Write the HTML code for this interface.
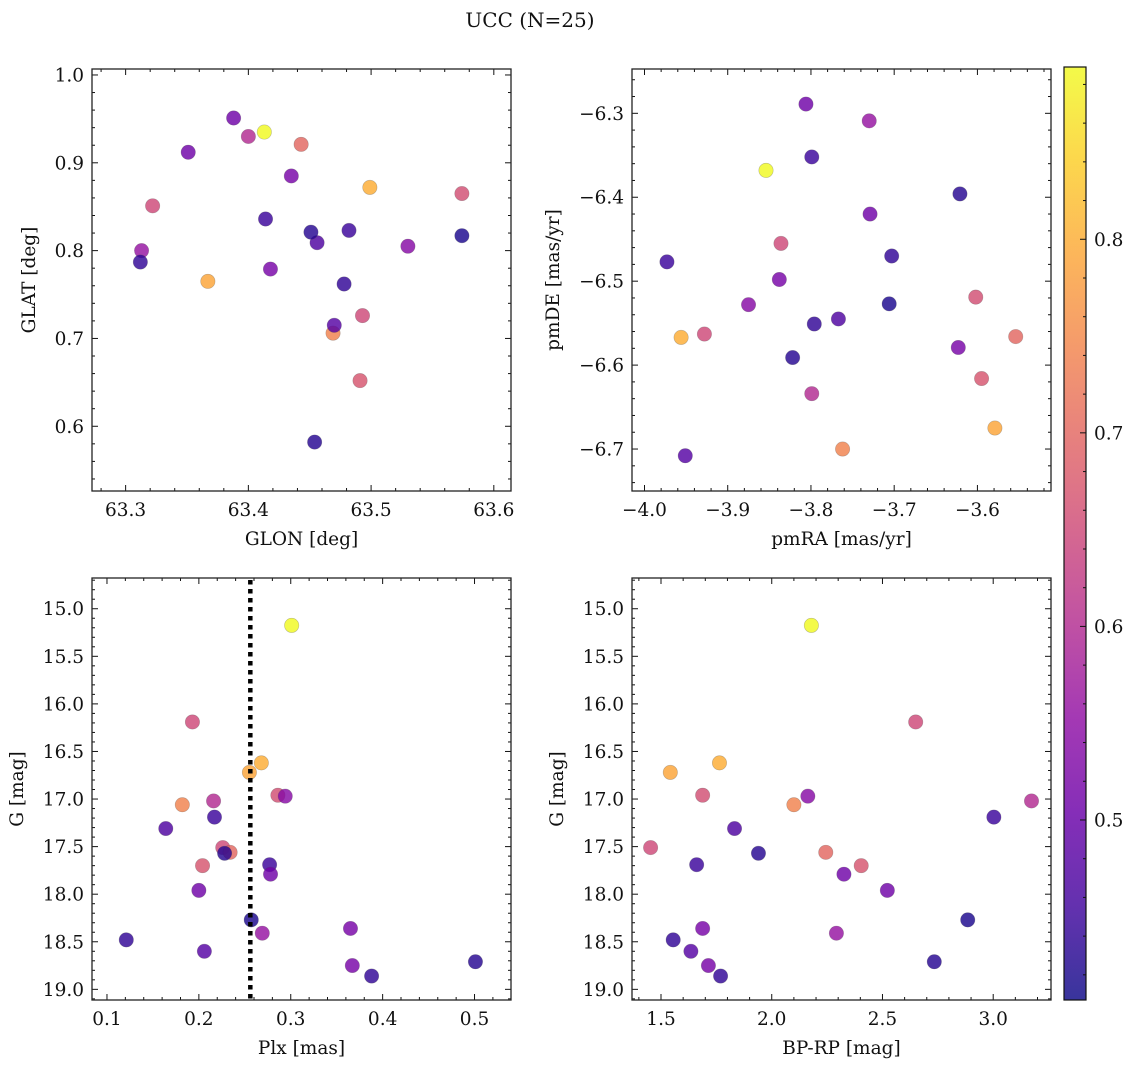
<!DOCTYPE html>
<html><head><meta charset="utf-8">
<style>
html,body{margin:0;padding:0;background:#fff;}
svg{display:block;}
text{font-family:"DejaVu Serif","Liberation Serif",serif;fill:#111;}
</style></head>
<body>
<svg id="fig" width="1136" height="1067" viewBox="0 0 1136 1067" xmlns="http://www.w3.org/2000/svg">
<text x="530" y="27" font-size="20" text-anchor="middle">UCC (N=25)</text>
</svg>
<script>
const glon=[63.413,63.322,63.499,63.367,63.469,63.400,63.574,63.530,63.414,63.456,63.493,63.443,63.451,63.491,63.482,63.388,63.351,63.574,63.313,63.435,63.312,63.470,63.418,63.478,63.454];
const glat=[0.935,0.851,0.872,0.765,0.706,0.930,0.865,0.805,0.836,0.809,0.726,0.921,0.821,0.652,0.823,0.951,0.912,0.817,0.800,0.885,0.787,0.715,0.779,0.762,0.582];
const pmra=[-3.854,-3.836,-3.956,-3.579,-3.762,-3.799,-3.602,-3.875,-3.799,-3.767,-3.928,-3.554,-3.621,-3.595,-3.973,-3.806,-3.729,-3.706,-3.730,-3.838,-3.703,-3.951,-3.623,-3.796,-3.822];
const pmde=[-6.368,-6.455,-6.567,-6.675,-6.700,-6.634,-6.519,-6.528,-6.352,-6.545,-6.563,-6.566,-6.396,-6.616,-6.477,-6.289,-6.420,-6.527,-6.309,-6.498,-6.470,-6.708,-6.579,-6.551,-6.591];
const plx=[0.301,0.193,0.268,0.255,0.182,0.216,0.286,0.294,0.217,0.164,0.226,0.234,0.228,0.204,0.277,0.278,0.200,0.257,0.269,0.365,0.121,0.206,0.367,0.388,0.501];
const gmag=[15.175,16.19,16.62,16.72,17.06,17.02,16.96,16.97,17.19,17.31,17.51,17.56,17.57,17.70,17.69,17.79,17.96,18.27,18.41,18.36,18.48,18.60,18.75,18.86,18.71];
const bprp=[2.179,2.650,1.764,1.542,2.100,3.173,1.688,2.163,3.003,1.832,1.453,2.244,1.940,2.404,1.661,2.326,2.522,2.885,2.292,1.688,1.555,1.635,1.714,1.769,2.734];
const prob=[0.889,0.65,0.80,0.79,0.74,0.60,0.66,0.54,0.45,0.47,0.65,0.70,0.43,0.67,0.45,0.51,0.51,0.42,0.56,0.52,0.44,0.48,0.52,0.44,0.43];
const plxLine=0.256;
const cbTicks=[0.5,0.6,0.7,0.8];

const NS="http://www.w3.org/2000/svg";
const svg=document.getElementById('fig');
const FS=18.5;
function mk(tag,attrs,parent){const e=document.createElementNS(NS,tag);for(const k in attrs)e.setAttribute(k,attrs[k]);(parent||svg).appendChild(e);return e;}
const stops=["#0d0887","#41049d","#6a00a8","#8f0da4","#b12a90","#cc4778","#e16462","#f2844b","#fca636","#fcce25","#f0f921"];
function hex(h){return [parseInt(h.substr(1,2),16),parseInt(h.substr(3,2),16),parseInt(h.substr(5,2),16)];}
function plasma(t){t=Math.max(0,Math.min(1,t));const f=t*10,i=Math.min(9,Math.floor(f)),r=f-i;const a=hex(stops[i]),b=hex(stops[i+1]);return `rgb(${a.map((v,k)=>Math.round(v+(b[k]-v)*r)).join(',')})`;}
const vmin=0.407,vmax=0.889;

function fmt(v,d){let s=v.toFixed(d);return s.replace('-','\u2212');}

function panel(name,box,xlim,ylim,xMaj,xMin,yMaj,yMin,xd,yd,xs,ys,xlabel,ylabel,ylabX){
  const [L,T,R,B]=box;
  const sx=v=>L+(v-xlim[0])/(xlim[1]-xlim[0])*(R-L);
  const sy=v=>ylim[2]? T+(v-ylim[0])/(ylim[1]-ylim[0])*(B-T) : B-(v-ylim[0])/(ylim[1]-ylim[0])*(B-T);
  const g=mk('g',{});
  
  
  const lo=Math.min(xlim[0],xlim[1]),hi=Math.max(xlim[0],xlim[1]);
  for(let v=Math.ceil(lo/xMin-1e-6)*xMin;v<=hi+1e-9;v+=xMin){
    const isMaj=Math.abs(v/xMaj-Math.round(v/xMaj))<1e-4; const len=isMaj?6:3; const x=sx(v);
    mk('line',{x1:x,x2:x,y1:B,y2:B-len,stroke:'#111','stroke-width':1},g);
    mk('line',{x1:x,x2:x,y1:T,y2:T+len,stroke:'#111','stroke-width':1},g);
    if(isMaj){const t=mk('text',{x:x,y:B+25,'font-size':FS,'text-anchor':'middle'},g);t.textContent=fmt(v,xd);
      
      }
  }
  const ylo=Math.min(ylim[0],ylim[1]),yhi=Math.max(ylim[0],ylim[1]);
  for(let v=Math.ceil(ylo/yMin-1e-6)*yMin;v<=yhi+1e-9;v+=yMin){
    const isMaj=Math.abs(v/yMaj-Math.round(v/yMaj))<1e-4; const len=isMaj?6:3; const y=sy(v);
    mk('line',{x1:L,x2:L+len,y1:y,y2:y,stroke:'#111','stroke-width':1},g);
    mk('line',{x1:R,x2:R-len,y1:y,y2:y,stroke:'#111','stroke-width':1},g);
    if(isMaj){const t=mk('text',{x:L-8,y:y+6.5,'font-size':FS,'text-anchor':'end'},g);t.textContent=fmt(v,yd);
      
      }
  }
  const xl=mk('text',{x:(L+R)/2,y:B+54,'font-size':FS,'text-anchor':'middle'},g);xl.textContent=xlabel;
  
  
  const yl=mk('text',{x:0,y:0,'font-size':FS,'text-anchor':'middle',transform:`translate(${ylabX},${(T+B)/2}) rotate(-90)`},g);yl.textContent=ylabel;
  
  
  for(let i=0;i<xs.length;i++){
    const c=mk('circle',{cx:sx(xs[i]),cy:sy(ys[i]),r:7.2,fill:plasma((prob[i]-vmin)/(vmax-vmin)),'fill-opacity':0.82,stroke:'rgba(80,80,80,0.35)','stroke-width':0.6},g);
    
    
  }
  const fr=mk('rect',{x:L,y:T,width:R-L,height:B-T,fill:'none',stroke:'#222','stroke-width':1.3},g);
  
  
  return {sx,sy,g};
}

panel('glon-glat',[92,69,511,491],[63.2726,63.614],[0.5263,1.0068],0.1,0.02,0.1,0.02,1,1,glon,glat,'GLON [deg]','GLAT [deg]',35);
panel('pm',[632,69,1051,491],[-4.015,-3.5116],[-6.750,-6.2472],0.1,0.02,0.1,0.02,1,1,pmra,pmde,'pmRA [mas/yr]','pmDE [mas/yr]',559);
const p3=panel('plx-g',[92,578,511,1000],[0.0837,0.5397],[14.677,19.112,1],0.1,0.02,0.5,0.1,1,1,plx,gmag,'Plx [mas]','G [mag]',23);
panel('bprp-g',[632,578,1051,1000],[1.369,3.261],[14.677,19.112,1],0.5,0.1,0.5,0.1,1,1,bprp,gmag,'BP-RP [mag]','G [mag]',563);

const ln=mk('line',{x1:p3.sx(plxLine),x2:p3.sx(plxLine),y1:580,y2:1000,stroke:'#000','stroke-width':4.5,'stroke-dasharray':'4.5,4.5'});



const cbL=1064,cbR=1086,cbT=67,cbB=1000;
const defs=mk('defs',{});
const grad=mk('linearGradient',{id:'cbg',x1:0,y1:1,x2:0,y2:0},defs);
for(let i=0;i<=20;i++){mk('stop',{offset:i/20,'stop-color':plasma(i/20),'stop-opacity':0.82},grad);}
const cb=mk('rect',{x:cbL,y:cbT,width:cbR-cbL,height:cbB-cbT,fill:'url(#cbg)',stroke:'#111','stroke-width':1.2});


const cy=v=>cbB-(v-vmin)/(vmax-vmin)*(cbB-cbT);
for(let v=0.42;v<=vmax+1e-9;v+=0.02){
  const isMaj=cbTicks.some(t=>Math.abs(t-v)<1e-4);const len=isMaj?6:3;
  mk('line',{x1:cbR,x2:cbR-len,y1:cy(v),y2:cy(v),stroke:'#111','stroke-width':1});
}
for(const t of cbTicks){
  const e=mk('text',{x:cbR+8,y:cy(t)+6.5,'font-size':FS});e.textContent=t.toFixed(1);
  
  
}
</script>
</body></html>
